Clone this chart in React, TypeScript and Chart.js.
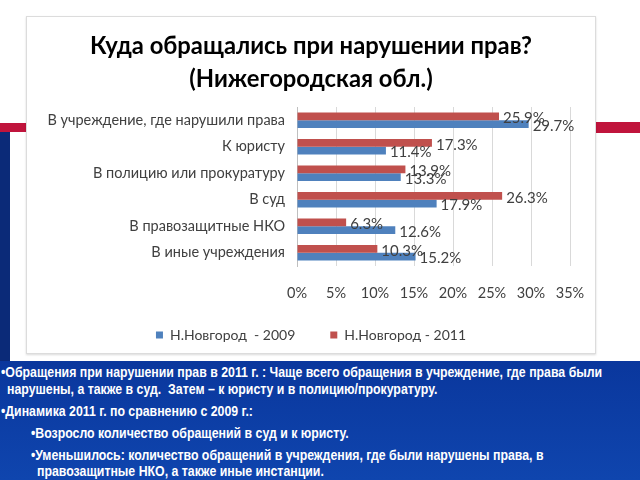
import React, { useEffect, useRef } from "react";
import { Chart, registerables } from "chart.js";

Chart.register(...registerables);

const categories = [
  "В учреждение, где нарушили права",
  "К юристу",
  "В полицию или прокуратуру",
  "В суд",
  "В правозащитные НКО",
  "В иные учреждения",
];
const values2009 = [29.7, 11.4, 13.3, 17.9, 12.6, 15.2];
const values2011 = [25.9, 17.3, 13.9, 26.3, 6.3, 10.3];
const label2009 = "Н.Новгород  - 2009";
const label2011 = "Н.Новгород - 2011";
const titleLines = ["Куда обращались при нарушении прав?", "(Нижегородская обл.)"];
const xMin = 0;
const xMax = 35;
const xStep = 5;

const noteLines = [
  { text: "•Обращения при нарушении прав в 2011 г. : Чаще всего обращения в учреждение, где права были", x: 1, y: 372 },
  { text: "нарушены, а также в суд.  Затем – к юристу и в полицию/прокуратуру.", x: 7, y: 389 },
  { text: "•Динамика 2011 г. по сравнению с 2009 г.:", x: 1, y: 411 },
  { text: "•Возросло количество обращений в суд и к юристу.", x: 31, y: 433 },
  { text: "•Уменьшилось: количество обращений в учреждения, где были нарушены права, в", x: 31, y: 455 },
  { text: "правозащитные НКО, а также иные инстанции.", x: 37, y: 471 },
];

const FONT = "Lato, 'Open Sans', sans-serif";

const valueLabels = {
  id: "valueLabels",
  afterDatasetsDraw(chart: any) {
    const ctx = chart.ctx;
    ctx.save();
    ctx.font = `15px ${FONT}`;
    ctx.fillStyle = "#404040";
    ctx.textBaseline = "middle";
    ctx.textAlign = "left";
    chart.data.datasets.forEach((ds: any, di: number) => {
      const meta = chart.getDatasetMeta(di);
      meta.data.forEach((el: any, i: number) => {
        const v = ds.data[i] as number;
        ctx.fillText(v.toFixed(1) + "%", el.x + 4, el.y + 2);
      });
    });
    ctx.restore();
  },
};

const legendLift = {
  id: "legendLift",
  afterLayout(chart: any) {
    if (chart.legend) {
      chart.legend.top -= 27;
    }
  },
};

function ChartBox() {
  const ref = useRef<HTMLCanvasElement | null>(null);
  useEffect(() => {
    if (!ref.current) return;
    const chart = new Chart(ref.current, {
      type: "bar",
      data: {
        labels: categories,
        datasets: [
          {
            label: label2011,
            data: values2011,
            backgroundColor: "#c0504d",
            categoryPercentage: 0.58,
            barPercentage: 1.0,
          },
          {
            label: label2009,
            data: values2009,
            backgroundColor: "#4f81bd",
            categoryPercentage: 0.58,
            barPercentage: 1.0,
          },
        ],
      },
      options: {
        indexAxis: "y",
        responsive: false,
        animation: false,
        layout: { padding: 0 },
        plugins: {
          title: {
            display: true,
            text: titleLines,
            color: "#000000",
            font: { family: FONT, size: 23.8, weight: "bold", lineHeight: 1.387 },
            padding: { top: 13, bottom: 11 },
          },
          legend: {
            display: true,
            position: "bottom",
            reverse: true,
            maxHeight: 33,
            labels: {
              boxWidth: 7,
              boxHeight: 7,
              padding: 35,
              color: "#404040",
              font: { family: FONT, size: 14 },
            },
          },
          tooltip: { enabled: false },
        },
        scales: {
          x: {
            min: xMin,
            max: xMax,
            ticks: {
              stepSize: xStep,
              padding: 18.3,
              color: "#404040",
              font: { family: FONT, size: 14.5 },
              callback: (v: any) => v + "%",
            },
            grid: { color: "#d9d9d9", drawTicks: false },
            border: { display: false },
            afterFit: (s: any) => {
              s.paddingLeft = 0;
              s.paddingRight = 25;
            },
          },
          y: {
            ticks: {
              padding: 12,
              color: "#404040",
              font: { family: FONT, size: 14.5 },
            },
            grid: { display: false, drawTicks: false },
            border: { display: true, color: "#bfbfbf" },
            afterFit: (s: any) => {
              s.width = 270;
              s.paddingTop = 0;
              s.paddingBottom = 0;
            },
          },
        },
      },
      plugins: [valueLabels, legendLift],
    });
    return () => chart.destroy();
  }, []);
  return <canvas ref={ref} width={568} height={336} style={{ display: "block" }} />;
}

export default function App() {
  return (
    <div
      style={{
        position: "fixed",
        left: 0,
        top: 0,
        width: 640,
        height: 480,
        overflow: "hidden",
        background: "#ffffff",
      }}
    >
      <div style={{ position: "absolute", left: 0, top: 123, width: 27, height: 9, background: "#c0143c" }} />
      <div style={{ position: "absolute", left: 0, top: 132, width: 10, height: 240, background: "#0b2a78" }} />
      <div style={{ position: "absolute", left: 595, top: 122, width: 45, height: 11, background: "#c0143c" }} />
      <div
        style={{
          position: "absolute",
          left: 26,
          top: 16,
          width: 568,
          height: 336,
          border: "1px solid #dcdcdc",
          boxShadow: "0 1px 2px rgba(0,0,0,0.15)",
          background: "#ffffff",
        }}
      >
        <ChartBox />
      </div>
      <div
        style={{
          position: "absolute",
          left: 0,
          top: 361,
          width: 640,
          height: 119,
          background: "linear-gradient(#0a379d, #0f45ae)",
        }}
      />
      {noteLines.map((l, i) => (
        <div
          key={i}
          style={{
            position: "absolute",
            left: l.x,
            top: l.y - 8,
            height: 16,
            lineHeight: "16px",
            whiteSpace: "pre",
            color: "#ffffff",
            fontFamily: "'Liberation Sans', Arial, sans-serif",
            fontWeight: "bold",
            fontSize: 14,
            transform: "scaleX(0.88)",
            transformOrigin: "0 50%",
          }}
        >
          {l.text}
        </div>
      ))}
    </div>
  );
}
